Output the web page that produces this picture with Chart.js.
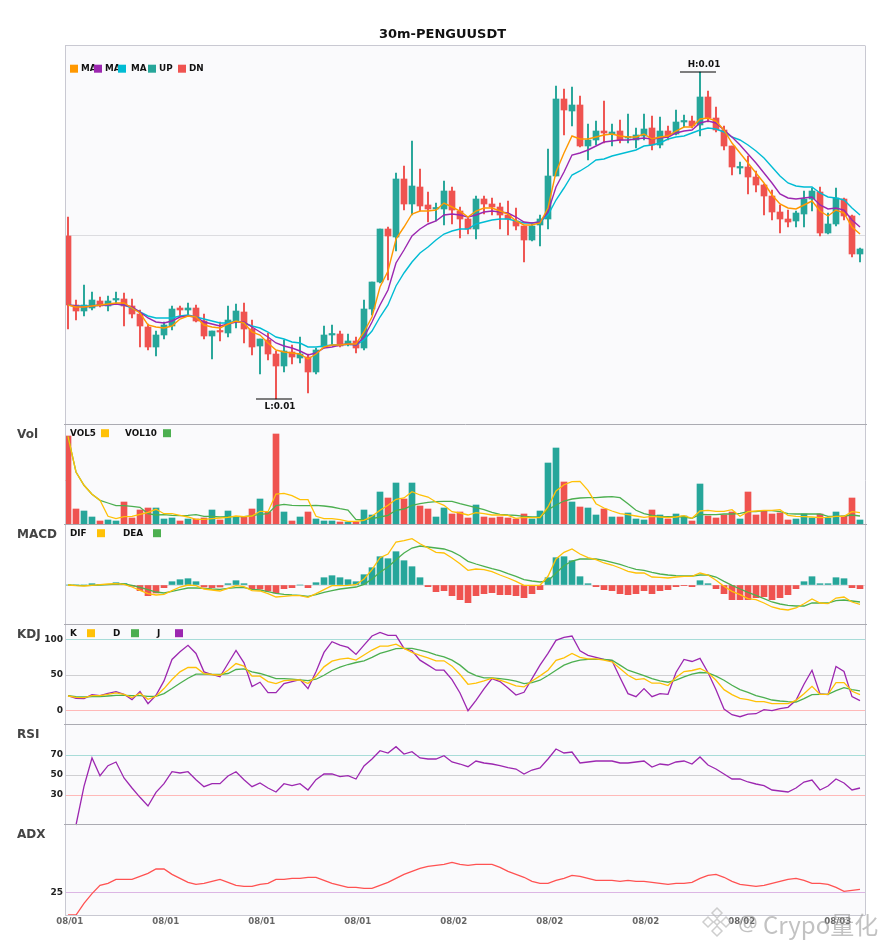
<!DOCTYPE html>
<html>
<head>
<meta charset="utf-8">
<style>html,body{margin:0;padding:0;background:#fff}canvas{display:block}</style>
<script src="https://cdn.jsdelivr.net/npm/chart.js@4"></script>
</head>
<body>
<canvas id="c" width="885" height="950" style="width:885px;height:950px"></canvas>
<script>
const chartTitle = '30m-PENGUUSDT';
const dateLabels = ['08/01','08/01','08/01','08/01','08/02','08/02','08/02','08/02','08/03'];
const dateTickEvery = 12;

// prices in units of 1e-5 USDT
const opens = [1150,1081,1075,1078,1085,1080,1086,1087,1080,1072,1059,1039,1051,1060,1078,1076,1078,1065,1050,1055,1053,1065,1074,1057,1040,1046,1032,1020,1034,1028,1029,1014,1039,
1051,1052,1041,1045,1038,1077,1104,1157,1149,1207,1182,1199,1181,1177,1177,1195,1175,1167,1157,1187,1182,1179,1171,1165,1160,1146,1161,1167,1210,1287,1275,1281,1240,1246,
1255,1252,1255,1248,1246,1250,1258,1241,1255,1252,1264,1265,1261,1289,1268,1256,1240,1218,1219,1209,1201,1190,1174,1167,1165,1172,1187,1194,1153,1162,1187,1170,1132];
const closes = [1081,1075,1081,1086,1080,1085,1087,1080,1072,1060,1039,1051,1061,1077,1076,1078,1065,1050,1055,1054,1066,1075,1057,1039,1047,1032,1020,1035,1029,1032,1014,1036,1051,
1052,1040,1045,1038,1077,1104,1157,1150,1207,1182,1200,1180,1177,1178,1195,1176,1167,1157,1187,1182,1179,1171,1167,1160,1146,1160,1167,1210,1287,1276,1281,1240,1246,1255,
1253,1254,1246,1249,1251,1257,1241,1255,1250,1264,1265,1260,1289,1268,1256,1240,1219,1219,1209,1201,1190,1174,1167,1164,1173,1187,1195,1153,1162,1188,1170,1132,1137];
const highs = [1169,1086,1101,1094,1089,1090,1094,1093,1087,1076,1062,1055,1064,1080,1080,1083,1081,1072,1055,1064,1080,1082,1083,1066,1047,1053,1035,1046,1041,1049,1032,1038,1060,
1061,1055,1052,1049,1086,1104,1157,1159,1213,1220,1245,1217,1194,1183,1205,1199,1179,1168,1190,1190,1188,1183,1185,1178,1160,1162,1171,1237,1300,1297,1299,1290,1262,1265,
1285,1262,1266,1272,1258,1272,1270,1269,1260,1276,1271,1270,1314,1295,1279,1260,1240,1224,1230,1215,1202,1196,1181,1176,1175,1195,1198,1199,1173,1198,1188,1171,1138];
const lows = [1057,1066,1070,1076,1079,1075,1082,1060,1068,1039,1036,1030,1047,1056,1070,1071,1064,1047,1027,1045,1049,1058,1043,1031,1012,1026,987,1014,1022,1023,993,1012,1038,
1041,1039,1040,1033,1036,1071,1103,1106,1135,1176,1171,1175,1164,1165,1161,1162,1148,1152,1147,1172,1171,1157,1151,1156,1124,1145,1140,1157,1210,1251,1260,1239,1226,1241,
1243,1240,1243,1243,1238,1246,1236,1238,1246,1251,1259,1258,1250,1264,1254,1236,1211,1212,1192,1194,1171,1166,1153,1159,1159,1159,1175,1150,1152,1160,1166,1129,1124];

const maFast = [1081,1079,1079,1080,1081,1082,1083,1083,1078,1073,1061,1059,1058,1060,1067,1070,1069,1061,1059,1058,1062,1065,1063,1054,1051,1043,1036,1034,1033,1032,1027,1032,1039,
1041,1041,1042,1042,1054,1069,1099,1115,1147,1159,1172,1175,1175,1176,1183,1179,1175,1169,1175,1178,1178,1175,1172,1165,1161,1161,1163,1178,1214,1233,1250,1247,1247,1249,
1251,1252,1250,1249,1249,1252,1247,1249,1250,1255,1259,1259,1267,1268,1265,1256,1243,1233,1223,1213,1203,1191,1182,1178,1177,1181,1185,1175,1170,1176,1173,1159,1152];
const maMid = [1081,1080,1079,1080,1081,1081,1082,1081,1079,1074,1068,1064,1063,1065,1069,1070,1069,1064,1062,1060,1062,1064,1064,1059,1054,1049,1043,1040,1038,1035,1031,1033,1038,
1039,1041,1042,1041,1049,1064,1081,1096,1123,1136,1150,1157,1162,1165,1171,1172,1171,1169,1171,1174,1175,1174,1173,1169,1164,1163,1164,1174,1199,1214,1231,1233,1236,1240,
1244,1245,1246,1246,1247,1248,1247,1248,1249,1253,1255,1256,1263,1265,1263,1256,1249,1241,1232,1223,1213,1203,1192,1188,1187,1188,1189,1181,1177,1178,1176,1166,1159];
const maSlow = [1081,1080,1080,1080,1081,1081,1082,1081,1078,1074,1070,1068,1068,1068,1070,1071,1069,1067,1065,1063,1063,1065,1063,1060,1058,1054,1049,1047,1044,1043,1039,1039,1040,
1041,1041,1042,1041,1046,1055,1069,1081,1100,1113,1124,1133,1139,1146,1152,1155,1157,1157,1162,1164,1166,1167,1167,1165,1163,1163,1164,1171,1186,1198,1211,1215,1220,1226,
1227,1230,1232,1234,1236,1240,1241,1243,1247,1249,1250,1253,1256,1258,1257,1254,1249,1246,1241,1235,1228,1219,1210,1203,1200,1199,1199,1193,1189,1188,1186,1178,1171];

const volume = [89,16,14,8,4,5,4,23,7,15,17,17,6,7,4,6,6,7,15,5,14,8,8,16,26,13,91,13,4,8,13,6,4,4,3,3,3,15,10,33,27,42,26,42,19,16,8,
17,11,13,7,20,8,7,8,7,6,11,6,14,62,77,43,23,18,17,10,16,8,8,12,6,5,15,10,6,11,9,4,41,9,7,10,13,6,33,10,14,11,12,5,6,11,7,11,7,13,9,27,5];
const vol5 = [88.7,53,39.7,30.7,24.7,8.7,6.3,8.3,8.7,10.7,12.7,15.7,11.3,11.3,9.7,8,5.7,5.7,6.3,7,7.7,9,8.3,9,13.7,13.3,31,31.7,29.3,25.3,25.3,8.7,6.3,6.3,5.3,3.7,3.7,4.7,8.7,14.7,19.7,25.7,27,33.3,30,28,23,
19.7,13.3,12,10,12.3,11.3,10,10,9.7,6.7,7.7,7.3,7.3,18,34,40.3,43.3,43.7,34.7,21.3,17,14,11.3,10.3,9,7.7,8.7,8,7.3,8,9.3,6.7,14,14.7,13.7,13.7,15.3,8.7,13.3,14,14.7,14.7,15.3,9.7,8.7,8.3,8,7.3,7.7,8.7,8.7,13.3,12.3];
const vol10 = [88.7,53,39.7,30.7,24.7,22,19.3,19.3,18.7,17.7,11.3,10,10.3,9.7,9.3,9.7,10.3,8.7,8.7,8,8.3,8.3,8.3,9.3,10.7,11.3,19.3,20.7,19.7,19.3,19.3,19.7,19,18,16.3,15,5.3,5.3,6.3,8,9.7,14.7,16,19.7,21.3,22.7,23.3,
23.7,23.7,21.3,19.3,17.3,15.3,12.7,10.7,10,9.7,8.7,8,8,15.3,20,24,26,27,27.3,27.3,28,28.3,27.3,21.3,14.7,11.3,9.7,8.7,8.3,8.3,8,6.7,10.7,10.3,10.3,11,11,11.7,13.3,13.3,14.3,14.3,13.3,11.3,11,11,11,11,8.7,8.7,9,10,9];

const macdHist = [0,0,0,1.3,.3,.3,2.3,1.5,-1.3,-5.7,-10.7,-8,-2.7,3.3,5.3,6.3,3.3,-2,-2.7,-2,1.3,4.3,1.3,-4,-4,-6,-8,-3.7,-2.7,0,-2.7,2.3,7.3,9.3,7.3,5.3,3.3,10.3,17.3,28.3,26.3,33.3,24.3,18.3,7.3,-1.7,-6.7,
-5.7,-10.7,-14.7,-17.7,-10.7,-8.7,-7.7,-9.7,-9.7,-10.7,-12.7,-8.7,-4.7,7.3,27.3,28.3,24.3,8.3,1.3,-1.7,-4.7,-5.7,-8.7,-9.7,-8.7,-5.7,-8.7,-5.7,-4.7,-1.7,-.7,-1.7,4.3,1.3,-3.7,-8.7,-14.7,-14.7,-14.7,-12.7,-11.7,-14.7,-12.7,-9.7,-3.7,3.3,8.3,1.3,1.3,7.3,6.3,-2.7,-3.7];
const macdDif = [0,-.7,-1,-.3,.3,1,1.3,.7,-2,-5.3,-8.7,-10,-9.3,-5.7,-2,0,-.7,-4,-5,-6,-3.3,-.7,-1.7,-5.7,-6,-8.7,-12,-11.3,-10.7,-10.7,-12.3,-8.7,-4.7,-.7,-.7,-.3,.3,6,15.3,27.3,31,43,44.3,46.3,41.3,37,32.7,
32,27,21.3,14.7,16,15.3,13.3,10,7,3.7,-.3,-.3,-.3,8.7,26,32.7,36,31,27.3,25.3,22,20,17,13.7,12,12,8,7.7,7,8,8.7,8.7,12,10,4.7,-1.3,-6.3,-9.7,-13.7,-14.7,-18,-22,-24,-25,-23,-18.7,-14,-18,-18.7,-13,-12,-17,-19.3];
const macdDea = [0,-.3,-.7,-.3,0,.3,1,1,-.3,-2.3,-4.7,-7,-8,-6.3,-4.7,-3,-3,-3.3,-4,-4.3,-3.3,-2.7,-2.7,-4.3,-5,-6.7,-8.3,-9.3,-10,-10.3,-11.3,-9.7,-7.3,-5.7,-4,-3,-2,.7,6,12.7,18,25.3,32,37,39,38,37,
36,33.3,29.3,23.7,21,18.7,16.3,14.3,11.3,8.7,5.3,4,3,4,12,19.3,24,26,26,26,24.7,22.7,20.7,18,15.7,14.7,12.7,11,10,9.3,9,9,10,10,8,3.7,-.3,-4,-7.3,-10.3,-13.7,-17,-19,-20.3,-21,-21,-18,-18,-18,-15.7,-15,-16,-17];

const kdjK = [20.6,18.8,18.3,21.1,21.1,23,24.9,23,18.3,24.4,15.9,20.2,31,43.6,54.4,60.5,60.5,52,50.7,49.7,56.7,66,62.4,48.3,48.3,40.8,38,42.2,42.7,43.1,38,48.3,61.4,69.4,72.2,73.6,70.8,77.9,84.9,90.5,90.5,93.3,87.2,81.6,77.4,74.1,69.9,
69.9,62.4,50.7,37,38.5,41.7,45.5,42.7,38.9,34.7,33.3,41.7,48.8,56.7,70.4,74.1,80.2,74.6,72.7,72.7,70.8,68.5,59.1,49.7,43.6,45,38.5,38.5,35.2,46.4,54.9,56.3,59.1,53.5,42.7,29.5,22.5,17.4,15.5,12.7,12.7,9.8,9.8,9.8,14.5,23.9,34.2,23,23,39.4,39.4,27.2,22.5];
const kdjD = [21.1,19.7,19.2,19.7,19.7,20.6,21.6,21.6,21.1,21.1,20.2,20.2,23.9,31,38.5,45.5,51.1,51.1,50.7,50.7,52.1,57.7,58.6,54.4,52.1,48.8,45,45,44.1,43.1,42.2,44.1,49.7,56.3,61,64.7,67.5,69.9,74.6,80.2,83.5,86.8,87.2,87.2,84.9,82.1,78.3,
75.5,70.8,63.8,54.4,49.2,46,46,45,43.6,41.3,38,39.4,42.7,49.2,56.7,63.8,68,70.8,71.8,71.8,71.8,70.8,63.8,56.7,53,49.2,45,41.7,39.9,42.7,47.4,51.1,53.5,53,48.3,42.7,35.6,29.5,25.8,21.1,18.3,15,13.6,12.7,12.2,16.9,22.5,23,23,28.1,32.4,29.5,27.7];
const kdjJ = [21.1,17.4,16.9,22.5,21.1,24.4,26.7,23,15.5,26.7,9.8,21.6,41.7,71.8,82.5,91.5,80.2,54.4,50.7,47.4,66.1,84.4,67.1,33.8,39.9,25.3,25.3,38,40.8,43.6,31,54.4,81.6,96.6,91.9,88.6,78.8,91.9,104.6,109.7,105.5,105.5,87.2,84,70.8,63.8,56.7,
56.7,43.6,24.9,0,14.5,30.5,45,40.8,31.9,22,25.8,45,63.8,80.2,98.5,102.7,104.6,84,77.4,74.6,71.8,69.9,46.4,23.9,19.7,31,19.7,23.9,23,53.5,71.8,68.9,73.2,53.5,29.5,2.3,-5.6,-8.4,-4.7,-4.2,1.4,0,2.8,4.7,14.5,37,56.7,23.5,22.5,61.9,54.9,19.7,14.1];

const rsi = [null,0,38.7,67,49.3,59.3,63,47,37,27.7,19,32.7,41.3,53.3,52,53.3,45.3,38.3,41.3,41.3,49,53.3,45.3,38.3,42,37,33,41.3,39.3,41.3,35,45.3,51,51,48.3,49.3,46,59,66,74.3,72,78.3,71,73.3,67,66,66,
69.3,63,61,58.3,64,62,61,59.3,57.3,56,51,55,57,66,76,72,73,62,63,64,64,64,62,62,63,64,58,61,60,63,64,61,68,60,56,51,46,46,43,41,39.3,35,34,33,37,43,45,35,39,46,42,35,37];
const adx = [0,0,13,23.7,33,35.2,39.6,39.6,39.6,43,46.3,51.1,51.1,45.2,40.7,36.3,34.1,35.2,37.4,39.6,36.3,33,31.9,31.9,34.1,35.2,39.6,39.6,40.7,40.7,41.9,41.9,38.5,35.2,33,30.7,30.7,29.6,29.6,33,36.3,40.7,45.2,48.5,51.9,54.1,55.2,56.3,58.5,56.3,55.2,
56.3,56.3,56.3,53,48.5,45.2,41.9,37.4,35.2,35.2,38.5,40.7,44.1,43,40.7,38.5,38.5,38.5,37.4,38.5,37.4,37.4,36.3,35.2,34.1,35.2,35.2,36.3,40.7,44.1,45.2,41.9,37.4,34.1,33,31.9,33,35.2,37.4,39.6,40.7,38.5,35.2,35.2,34.1,30.7,26.3,27.4,28.5];

const priceGrid = [1151];
const macdGrid = [0];
const kdjTicks = [0,50,100];
const rsiTicks = [30,50,70];
const adxTicks = [25];

const UP='#26a69a', DN='#ef5350', ORANGE='#ff9800', PURPLE='#9c27b0', CYAN='#00bcd4',
      YELLOW='#ffc107', GREEN='#4caf50', ADXRED='#ff5252';

const xy = a => a.map((v,i)=>({x:i,y:v}));
const candleColor = opens.map((o,i)=> closes[i]>=o ? UP : DN);
const line = (data,color,yAxisID,width) => ({type:'line',data:xy(data),borderColor:color,borderWidth:width||1.3,
  pointRadius:0,tension:0,yAxisID,order:1,clip:false});
const bars = (data,colors,yAxisID,thick,order,minLen) => ({type:'bar',data,backgroundColor:colors,yAxisID,
  barThickness:thick,grouped:false,order,minBarLength:minLen||0,borderWidth:0});

const datasets = [
  line(maFast,ORANGE,'yMain',1.4), line(maMid,PURPLE,'yMain',1.4), line(maSlow,CYAN,'yMain',1.4),
  bars(opens.map((o,i)=>({x:i,y:[o,closes[i]]})),candleColor,'yMain',6,2,1.5),
  bars(lows.map((l,i)=>({x:i,y:[l,highs[i]]})),candleColor,'yMain',1.3,3),
  line(vol5,YELLOW,'yVol'), line(vol10,GREEN,'yVol'),
  bars(xy(volume),candleColor,'yVol',6,2),
  line(macdDif,YELLOW,'yMacd'), line(macdDea,GREEN,'yMacd'),
  bars(xy(macdHist),macdHist.map(v=>v>=0?UP:DN),'yMacd',6,2),
  line(kdjK,YELLOW,'yKdj'), line(kdjD,GREEN,'yKdj'), line(kdjJ,PURPLE,'yKdj'),
  line(rsi,PURPLE,'yRsi'),
  line(adx,ADXRED,'yAdx')
];

function yAxis(min,max,weight,gridVals,gridColor,showLabels){
  return {
    type:'linear',position:'left',stack:'panels',stackWeight:weight,min,max,
    afterFit(s){s.width=65;},
    afterBuildTicks(s){s.ticks=gridVals.map(v=>({value:v}));},
    grid:{color:gridColor,lineWidth:1,drawTicks:false,drawOnChartArea:true},
    border:{display:false},
    ticks:{display:!!showLabels,padding:2,autoSkip:false,color:'#222',font:{family:'DejaVu Sans',weight:'bold',size:9},
      callback:v=>String(v)}
  };
}
const bandColor = ctx => {const v=ctx.tick.value; return (v===100||v===70)?'#a8dcd8':(v===0||v===30)?'#ffb9b8':'#cfcfd2';};

const chrome = {
  id:'chrome',
  beforeDraw(c){
    const {ctx,chartArea:a}=c;
    ctx.save();
    ctx.fillStyle='#fafafc';
    ctx.fillRect(a.left,a.top,a.right-a.left,a.bottom-a.top);
    ctx.restore();
  },
  afterDraw(c){
    const {ctx,chartArea:a,scales:s}=c;
    ctx.save();
    // frame
    ctx.strokeStyle='#c9c9d2';ctx.lineWidth=1;
    ctx.beginPath();
    ctx.moveTo(a.left+.5,a.top+.5);ctx.lineTo(a.left+.5,a.bottom+.5);
    ctx.moveTo(a.right+.5,a.top+.5);ctx.lineTo(a.right+.5,a.bottom+.5);
    ctx.moveTo(a.left,a.top+.5);ctx.lineTo(a.right,a.top+.5);
    ctx.moveTo(a.left,a.bottom+.5);ctx.lineTo(a.right,a.bottom+.5);
    ctx.stroke();
    ctx.strokeStyle='#ababb2';
    ctx.beginPath();
    ['yMain','yVol','yMacd','yKdj','yRsi'].forEach(k=>{
      const y=Math.round(s[k].bottom)-.5;
      ctx.moveTo(a.left-1,y);ctx.lineTo(a.right+2,y);
    });
    ctx.stroke();

    const text=(t,x,y,font,color,align)=>{ctx.font=font;ctx.fillStyle=color;ctx.textAlign=align||'left';ctx.textBaseline='middle';ctx.fillText(t,x,y);};
    const sq=(x,y,color)=>{ctx.fillStyle=color;ctx.fillRect(x,y,8,8);};
    const F='bold 8.8px "DejaVu Sans"', T='bold 12px "DejaVu Sans"';

    text(chartTitle,442.5,34.5,'bold 13px "DejaVu Sans"','#111','center');

    // panel titles
    [['Vol','yVol'],['MACD','yMacd'],['KDJ','yKdj'],['RSI','yRsi'],['ADX','yAdx']].forEach(([t,k])=>
      text(t,17,s[k].top+10.3,T,'#444'));

    // main legend
    const my=s.yMain.top+19.7;
    const main=[['MA',81,ORANGE,70],['MA',105,PURPLE,94],['MA',131,CYAN,118],['UP',159,UP,148],['DN',189,DN,178]];
    main.forEach(([t,tx])=>text(t,tx,my+4.0,F,'#111'));
    main.forEach(([t,tx,col,qx])=>sq(qx,my,col));
    // indicator legends
    const leg=(k,items)=>{const ty=s[k].top+8.7;items.forEach(([t,tx,col,qx])=>{text(t,tx,ty,F,'#111');sq(qx,ty-4.5,col);});};
    leg('yVol',[['VOL5',70,YELLOW,101],['VOL10',125,GREEN,163]]);
    leg('yMacd',[['DIF',70,YELLOW,97],['DEA',123,GREEN,153]]);
    leg('yKdj',[['K',70,YELLOW,87],['D',113,GREEN,131],['J',157,PURPLE,175]]);

    // high / low markers
    const hi=highs.indexOf(Math.max(...highs)), lo=lows.indexOf(Math.min(...lows));
    const hx=s.x.getPixelForValue(hi), hy=s.yMain.getPixelForValue(highs[hi]);
    const lx=s.x.getPixelForValue(lo), ly=s.yMain.getPixelForValue(lows[lo]);
    ctx.strokeStyle='#000';ctx.lineWidth=1;
    ctx.beginPath();
    ctx.moveTo(hx-20,hy);ctx.lineTo(hx+16,hy);
    ctx.moveTo(lx-20,ly);ctx.lineTo(lx+16,ly);
    ctx.stroke();
    text('H:'+(highs[hi]/1e5).toFixed(2),hx+4,hy-7,F,'#111','center');
    text('L:'+(lows[lo]/1e5).toFixed(2),lx+4,ly+8,F,'#111','center');

    // watermark
    ctx.strokeStyle='rgba(185,185,185,.7)';ctx.lineWidth=1.5;
    const dia=(cx,cy,r)=>{ctx.beginPath();ctx.moveTo(cx,cy-r);ctx.lineTo(cx+r,cy);ctx.lineTo(cx,cy+r);ctx.lineTo(cx-r,cy);ctx.closePath();ctx.stroke();};
    dia(717,913,5);dia(708,922,5);dia(726,922,5);dia(717,931,5);dia(717,922,3);
    ctx.globalAlpha=.6;
    text('@',738,925,'22px "Noto Sans"','#9a9a9a');
    text('Crypo量化',763,925,'24px "Noto Sans CJK SC"','#9a9a9a');
    ctx.restore();
  }
};

new Chart(document.getElementById('c'),{
  data:{datasets},
  plugins:[chrome],
  options:{
    responsive:false,animation:false,devicePixelRatio:1,
    layout:{padding:{left:0,right:20,top:45,bottom:0}},
    plugins:{legend:{display:false},tooltip:{enabled:false},title:{display:false}},
    scales:{
      x:{type:'linear',position:'bottom',min:-0.375,max:99.625,offset:false,
        afterFit(s){s.height=35;},
        afterBuildTicks(s){s.ticks=dateLabels.map((_,k)=>({value:k*dateTickEvery}));},
        grid:{display:false,drawTicks:false},border:{display:false},
        ticks:{autoSkip:false,maxRotation:0,minRotation:0,padding:2,labelOffset:1.7,color:'#666',
          font:{family:'DejaVu Sans',weight:'bold',size:8.6},
          callback:v=>dateLabels[v/dateTickEvery]}
      },
      yAdx:yAxis(0,100,90,adxTicks,'#dcb6e4',true),
      yRsi:yAxis(0,100,100,rsiTicks,bandColor,true),
      yKdj:yAxis(-20,120,100,kdjTicks,bandColor,true),
      yMacd:yAxis(-40,60,100,macdGrid,'#dedee2',false),
      yVol:yAxis(0,100,100,[],'#dedee2',false),
      yMain:yAxis(961,1341,380,priceGrid,'#dcdce0',false)
    }
  }
});
</script>
</body>
</html>
